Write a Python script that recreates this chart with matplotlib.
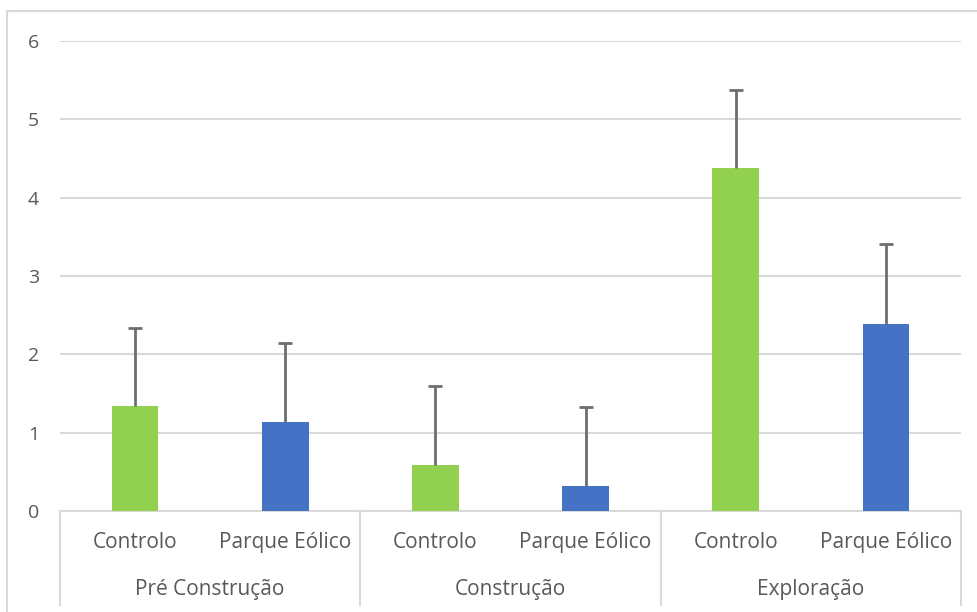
import numpy as np
import matplotlib.pyplot as plt
from matplotlib.patches import Rectangle

# data
groups = ['Pré Construção', 'Construção', 'Exploração']
series = ['Controlo', 'Parque Eólico']
controlo = [1.34, 0.59, 4.38]
parque = [1.14, 0.32, 2.39]
err_controlo = [1.0, 1.01, 1.0]
err_parque = [1.0, 1.01, 1.02]

green = '#92d050'
blue = '#4472c4'
grey_txt = '#595959'

plt.rcParams['font.family'] = ['Open Sans', 'DejaVu Sans']

fig = plt.figure(figsize=(9.77, 6.12), dpi=100)
ax = fig.add_axes([60 / 977, (612 - 511) / 612, 901 / 977, 470 / 612])

# interleave the two series: one slot per bar
vals, errs, cols, labels = [], [], [], []
for i in range(len(groups)):
    vals += [controlo[i], parque[i]]
    errs += [err_controlo[i], err_parque[i]]
    cols += [green, blue]
    labels += series
x = np.arange(len(vals))

ax.bar(x, vals, width=0.31, color=cols, zorder=3)
eb = ax.errorbar(x, vals, yerr=[np.zeros(len(errs)), errs], fmt='none',
                 ecolor='#6e6e6e', elinewidth=2, capsize=5, capthick=2, zorder=4)
# plus-only error bars: hide the lower caps
eb[1][0].set_visible(False)

ax.set_xlim(-0.5, len(vals) - 0.5)
ax.set_ylim(0, 6)
ax.set_yticks(range(7))
ax.yaxis.grid(True, color='#d9d9d9', linewidth=1.5, zorder=0)
ax.set_axisbelow(True)
for s in ['top', 'right', 'left']:
    ax.spines[s].set_visible(False)
ax.spines['bottom'].set_color('#d9d9d9')
ax.spines['bottom'].set_linewidth(1.5)
ax.tick_params(axis='y', length=0, pad=15, labelsize=14, labelcolor=grey_txt)
ax.set_xticks([])

# two-level category axis
trans = ax.get_xaxis_transform()
for xi, lab in zip(x, labels):
    ax.text(xi, -0.068, lab, transform=trans, ha='center', va='center',
            fontsize=15, color=grey_txt)
for i, g in enumerate(groups):
    ax.text(2 * i + 0.5, -0.166, g, transform=trans, ha='center', va='center',
            fontsize=15, color=grey_txt)
for sx in [-0.5, 1.5, 3.5, 5.5]:
    ax.plot([sx, sx], [0, -0.2], transform=trans, color='#d9d9d9',
            linewidth=1.5, clip_on=False)

# outer chart frame
fig.patches.append(Rectangle((7 / 977, -0.1), 1.2, (612 - 11) / 612 + 0.1,
                             transform=fig.transFigure, fill=False,
                             edgecolor='#d9d9d9', linewidth=1.5))

fig.savefig('out.png', dpi=100)
